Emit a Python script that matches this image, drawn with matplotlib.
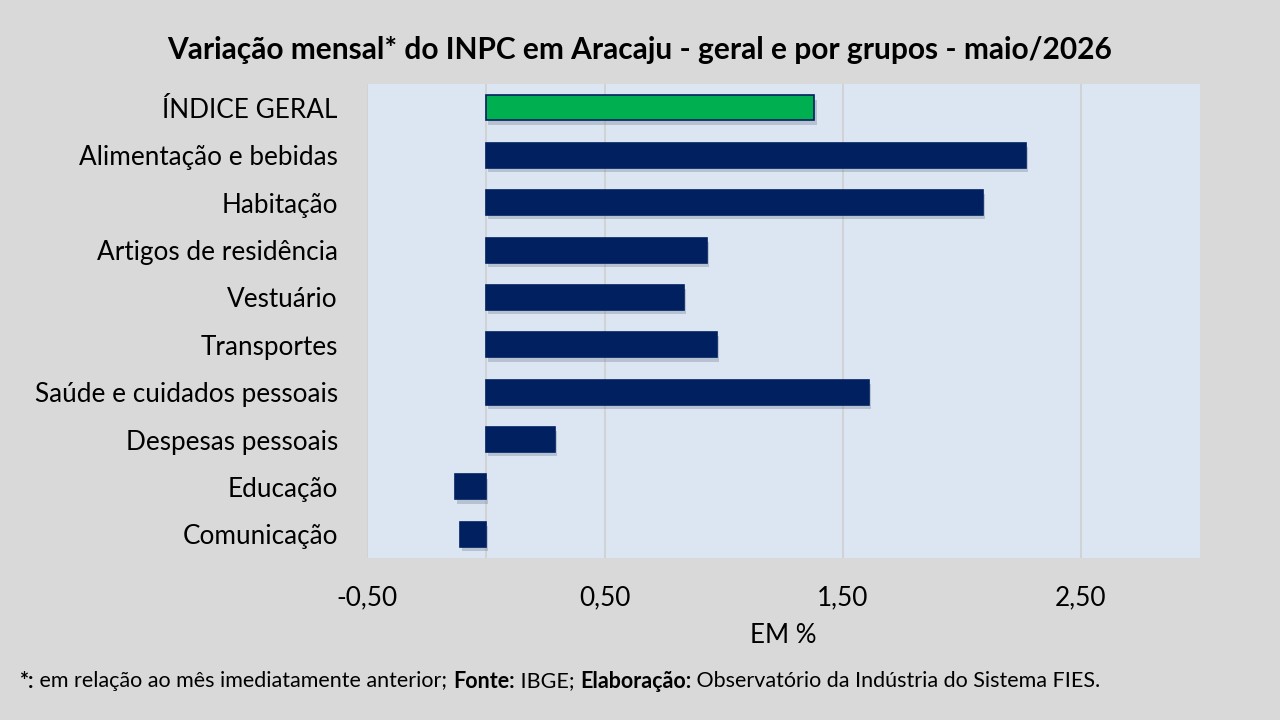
import matplotlib
matplotlib.use("Agg")
import matplotlib.pyplot as plt
import matplotlib.patheffects as pe
from matplotlib.transforms import offset_copy

categories = ["ÍNDICE GERAL", "Alimentação e bebidas", "Habitação", "Artigos de residência",
              "Vestuário", "Transportes", "Saúde e cuidados pessoais", "Despesas pessoais",
              "Educação", "Comunicação"]
values = [1.38, 2.27, 2.09, 0.93, 0.83, 0.97, 1.61, 0.29, -0.13, -0.11]
xticks = [-0.5, 0.5, 1.5, 2.5]
xticklabels = ["-0,50", "0,50", "1,50", "2,50"]

plt.rcParams['font.family'] = ['Lato', 'DejaVu Sans']

fig = plt.figure(figsize=(12.8, 7.2), dpi=100)
fig.patch.set_facecolor('#d9d9d9')
ax = fig.add_axes([0.2867, 0.225, 0.6508, 0.658])
ax.set_facecolor('#dce6f2')

colors = ['#00b050'] + ['#002060'] * (len(values) - 1)
ypos = list(range(len(categories)))
bars = ax.barh(ypos, values, height=0.53, color=colors, edgecolor='#002060', linewidth=1.2, zorder=3)
for b in bars:
    b.set_path_effects([pe.SimplePatchShadow(offset=(1.5, -3), shadow_rgbFace='#7d8aa0', alpha=0.4), pe.Normal()])

ax.set_ylim(len(categories) - 0.5, -0.5)
ax.set_xlim(-0.5, 3.0)
ax.set_xticks(xticks)
ax.set_xticklabels(xticklabels, fontsize=18.8)
ax.set_yticks(ypos)
ax.set_yticklabels(categories, fontsize=18.8)
ax.tick_params(axis='both', length=0)
ax.tick_params(axis='y', pad=21)
ax.tick_params(axis='x', pad=19.5)
ax.grid(axis='x', color='#cfcfcf', linewidth=1.2, zorder=0)
ax.axvline(0, color='#cfcfcf', linewidth=1.2, zorder=1)
for s in ax.spines.values():
    s.set_visible(False)
ax.set_xlabel("EM %", fontsize=18.6, labelpad=9)

fig.text(0.5, 0.931, "Variação mensal* do INPC em Aracaju - geral e por grupos - maio/2026",
         ha='center', va='center', fontsize=21.5, fontweight='bold')

# footer with mixed weights
pieces = [("*:", 'bold'), (" em relação ao mês imediatamente anterior; ", 'normal'), ("Fonte:", 'bold'),
          (" IBGE; ", 'normal'), ("Elaboração:", 'bold'), (" Observatório da Indústria do Sistema FIES.", 'normal')]
fig.canvas.draw()
renderer = fig.canvas.get_renderer()
x0 = 20
for txt, w in pieces:
    t = fig.text(0, 0, txt, fontsize=15.5, fontweight=w, va='center', ha='left',
                 transform=offset_copy(fig.transFigure, fig=fig, x=x0, y=720 - 681, units='dots'))
    bb = t.get_window_extent(renderer=renderer)
    x0 += bb.width

fig.savefig("out.png", dpi=100, facecolor=fig.get_facecolor())
